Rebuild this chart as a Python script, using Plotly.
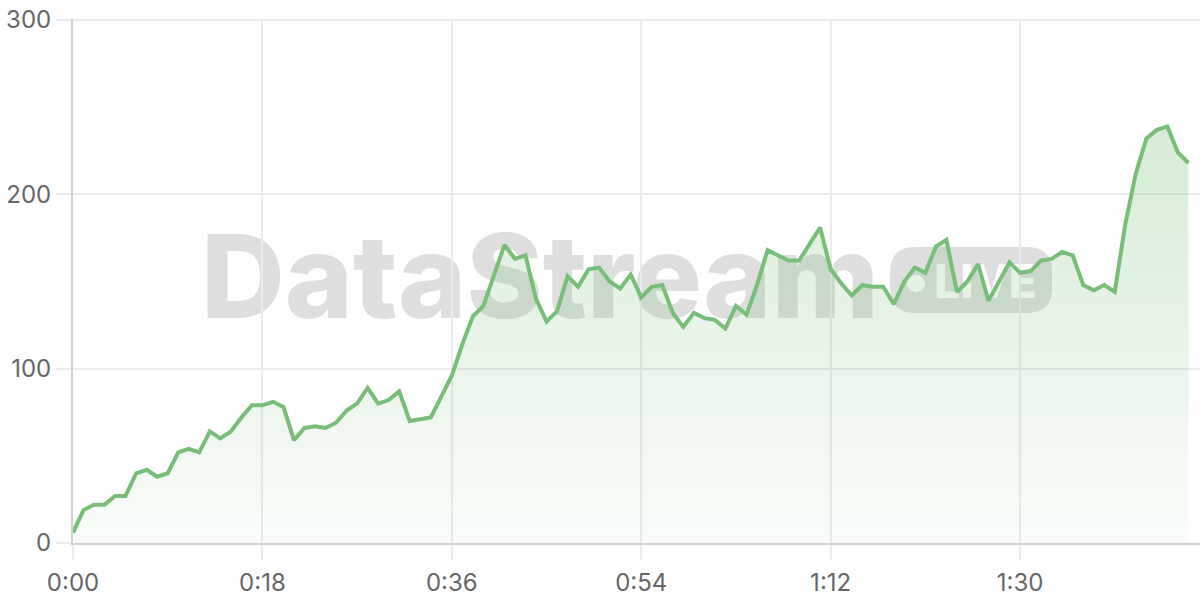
import plotly.graph_objects as go

# one reading per second
values = [6, 19, 22, 22, 27, 27, 40, 42, 38, 40,
          52, 54, 52, 64, 60, 64, 72, 79, 79, 81,
          78, 59, 66, 67, 66, 69, 76, 80, 89, 80,
          82, 87, 70, 71, 72, 84, 96, 114, 130, 136,
          153, 171, 163, 165, 140, 127, 133, 153, 147, 157,
          158, 150, 146, 154, 141, 147, 148, 132, 124, 132,
          129, 128, 123, 136, 131, 148, 168, 165, 162, 162,
          171, 181, 157, 149, 142, 148, 147, 147, 137, 150,
          158, 155, 170, 174, 144, 150, 160, 139, 150, 161,
          155, 156, 162, 163, 167, 165, 148, 145, 148, 144,
          183, 212, 232, 237, 239, 224, 218]
seconds = list(range(len(values)))
tick_vals = [0, 18, 36, 54, 72, 90]
tick_text = ['0:00', '0:18', '0:36', '0:54', '1:12', '1:30']
y_ticks = [0, 100, 200, 300]

green = 'rgb(120,190,120)'
grid = '#ebebeb'
wm = 'rgba(0,0,0,0.13)'

fig = go.Figure()
fig.add_trace(go.Scatter(
    x=seconds, y=values, mode='lines',
    line={'width': 4, 'color': green},
    fill='tozeroy',
    fillgradient=dict(type='vertical',
                      colorscale=[[0, 'rgba(120,190,120,0.04)'],
                                  [1, 'rgba(120,190,120,0.30)']]),
    hoverinfo='skip', showlegend=False))

# watermark, drawn under the line (paper coords; plot area is 1127 x 524 px)
fig.add_shape(type='rect', xref='paper', yref='paper', layer='between',
              x0=0.1216, x1=0.7072, y0=0.4389, y1=0.5973,
              fillcolor='rgba(0,0,0,0)', line_width=0,
              label=dict(text='DataStream', textposition='middle center',
                         font=dict(family='Inter', size=116, color=wm, weight=800)))
r_x, r_y = 25 / 1127, 25 / 524
x0, x1, y0, y1 = 0.725, 0.8687, 0.4389, 0.5649
pill = (f'M {x0 + r_x} {y0} L {x1 - r_x} {y0} Q {x1} {y0} {x1} {y0 + r_y} '
        f'L {x1} {y1 - r_y} Q {x1} {y1} {x1 - r_x} {y1} '
        f'L {x0 + r_x} {y1} Q {x0} {y1} {x0} {y1 - r_y} '
        f'L {x0} {y0 + r_y} Q {x0} {y0} {x0 + r_x} {y0} Z')
fig.add_shape(type='path', path=pill, xref='paper', yref='paper', layer='between',
              fillcolor=wm, line_width=0)
fig.add_shape(type='circle', xref='paper', yref='paper', layer='between',
              x0=0.74, x1=0.756, y0=0.479, y1=0.5115,
              fillcolor='white', line_width=0)
fig.add_shape(type='rect', xref='paper', yref='paper', layer='between',
              x0=0.7675, x1=0.852, y0=0.468, y1=0.536,
              fillcolor='rgba(0,0,0,0)', line_width=0,
              label=dict(text='LIVE', textposition='middle center',
                         font=dict(family='Inter', size=46, color='white', weight=800)))

fig.update_layout(
    width=1200, height=600,
    margin=dict(l=73, r=0, t=19, b=57),
    paper_bgcolor='white', plot_bgcolor='white',
    font=dict(family='Inter', size=24, color='#666666'),
)
fig.update_xaxes(range=[0, 107.1], tickvals=tick_vals, ticktext=tick_text,
                 showgrid=True, gridcolor=grid, gridwidth=1.5,
                 ticks='outside', ticklen=15, tickcolor=grid, tickwidth=1.5,
                 showline=True, linecolor='#d0d0d0', linewidth=2,
                 zeroline=False, ticklabelstandoff=2)
fig.update_yaxes(range=[0, 300.6], tickvals=y_ticks,
                 showgrid=True, gridcolor=grid, gridwidth=1.5,
                 ticks='outside', ticklen=15, tickcolor=grid, tickwidth=1.5,
                 showline=True, linecolor='#d0d0d0', linewidth=2,
                 zeroline=False, ticklabelstandoff=0, ticklabeloverflow='allow')
# drop the page's default 8px body margin so the figure sits at the corner
fig.write_html('out.html', config={'displayModeBar': False},
               post_script="document.body.style.margin='0';")
